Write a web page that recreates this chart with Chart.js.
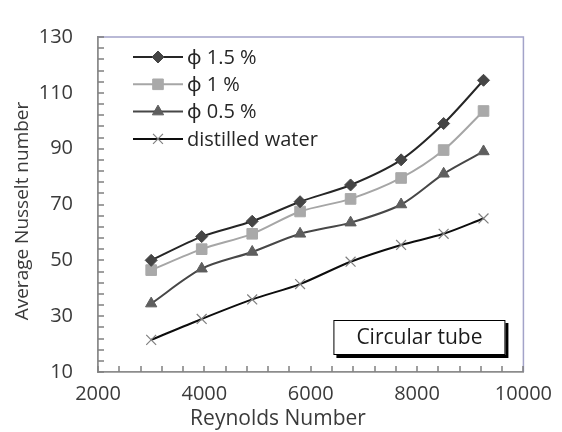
<!DOCTYPE html>
<html>
<head>
<meta charset="utf-8">
<script src="https://cdn.jsdelivr.net/npm/chart.js@4.4.0/dist/chart.umd.min.js"></script>
<style>
  html, body { margin: 0; padding: 0; background: #ffffff; }
  #wrap { width: 562px; height: 432px; }
</style>
</head>
<body>
<div id="wrap"><canvas id="nusselt-chart" width="562" height="432"></canvas></div>
<script>
// Reynolds numbers of the test runs
const reynolds = [3000, 3950, 4900, 5800, 6750, 7700, 8500, 9250];

// Average Nusselt number for each fluid
const nuPhi15 = [50, 58.5, 64, 71, 77, 86, 99, 114.5];
const nuPhi10 = [46.5, 54, 59.5, 67.5, 72, 79.5, 89.5, 103.5];
const nuPhi05 = [34.5, 47, 53, 59.5, 63.5, 70, 81, 89];
const nuWater = [21.5, 29, 36, 41.5, 49.5, 55.5, 59.5, 65];

const seriesLabels = ['ϕ 1.5 %', 'ϕ 1 %', 'ϕ 0.5 %', 'distilled water'];

// Axis ticks
const xTickValues = [2000, 4000, 6000, 8000, 10000];
const yTickValues = [10, 30, 50, 70, 90, 110, 130];
const xMinorStep = 400;
const yMinorStep = 4;

const FONT = "'Open Sans', 'Noto Sans', sans-serif";
const TEXT_COLOR = '#3a3a3a';

function toPoints(values) {
  return values.map((v, i) => ({ x: reynolds[i], y: v }));
}

// Frame, inner tick marks, legend, titles and the caption box
const decorPlugin = {
  id: 'decor',
  afterDatasetsDraw(chart) {
    const { ctx, chartArea: area, scales } = chart;
    const x = scales.x;
    const y = scales.y;
    ctx.save();

    // top and right edges of the plot box
    ctx.strokeStyle = '#a3a3c9';
    ctx.lineWidth = 1.5;
    ctx.beginPath();
    ctx.moveTo(area.left, area.top);
    ctx.lineTo(area.right, area.top);
    ctx.lineTo(area.right, area.bottom);
    ctx.stroke();

    // small tick marks pointing into the plot
    ctx.strokeStyle = '#808080';
    ctx.lineWidth = 1.5;
    ctx.beginPath();
    for (let v = y.min; v <= y.max; v += yMinorStep) {
      const py = Math.round(y.getPixelForValue(v));
      ctx.moveTo(area.left, py);
      ctx.lineTo(area.left + 6, py);
    }
    for (let v = x.min; v <= x.max; v += xMinorStep) {
      const px = Math.round(x.getPixelForValue(v));
      ctx.moveTo(px, area.bottom);
      ctx.lineTo(px, area.bottom - 6);
    }
    ctx.stroke();

    // legend: line sample with marker, then label
    const lx0 = area.left + 35;
    const lx1 = area.left + 85;
    chart.data.datasets.forEach((ds, i) => {
      const ly = area.top + 20 + i * 27.3;
      ctx.strokeStyle = ds.borderColor;
      ctx.lineWidth = ds.borderWidth;
      ctx.beginPath();
      ctx.moveTo(lx0, ly);
      ctx.lineTo(lx1, ly);
      ctx.stroke();
      ctx.fillStyle = ds.pointBackgroundColor;
      ctx.strokeStyle = ds.pointBorderColor;
      ctx.lineWidth = ds.pointBorderWidth;
      Chart.helpers.drawPoint(ctx, {
        pointStyle: ds.pointStyle,
        radius: ds.pointRadius,
        rotation: 0,
        borderWidth: ds.pointBorderWidth
      }, (lx0 + lx1) / 2, ly);
      ctx.fillStyle = '#262626';
      ctx.font = '20px ' + FONT;
      ctx.textAlign = 'left';
      ctx.textBaseline = 'middle';
      ctx.fillText(ds.label, lx1 + 4, ly + 1);
    });

    // caption box with a drop shadow
    const bx = area.right - 190;
    const by = area.bottom - 52;
    const bw = 172;
    const bh = 35;
    ctx.fillStyle = '#000000';
    ctx.fillRect(bx + 3, by + 3, bw, bh);
    ctx.fillStyle = '#ffffff';
    ctx.fillRect(bx, by, bw, bh);
    ctx.strokeStyle = '#000000';
    ctx.lineWidth = 1;
    ctx.strokeRect(bx + 0.5, by + 0.5, bw - 1, bh - 1);
    ctx.fillStyle = '#1a1a1a';
    ctx.font = '21px ' + FONT;
    ctx.textAlign = 'center';
    ctx.fillText('Circular tube', bx + bw / 2, by + bh / 2 + 1);

    // axis titles
    ctx.fillStyle = TEXT_COLOR;
    ctx.font = '21px ' + FONT;
    ctx.textAlign = 'center';
    ctx.textBaseline = 'middle';
    ctx.fillText('Reynolds Number', 278, 419);
    ctx.font = '19px ' + FONT;
    ctx.translate(23, 211);
    ctx.rotate(-Math.PI / 2);
    ctx.fillText('Average Nusselt number', 0, 0);

    ctx.restore();
  }
};

const ctx = document.getElementById('nusselt-chart').getContext('2d');
window.nusseltChart = new Chart(ctx, {
  type: 'line',
  data: {
    datasets: [
      {
        label: seriesLabels[0],
        data: toPoints(nuPhi15),
        borderColor: '#262626',
        borderWidth: 2,
        pointStyle: 'rectRot',
        pointRadius: 6,
        pointBackgroundColor: '#454545',
        pointBorderColor: '#454545',
        pointBorderWidth: 1
      },
      {
        label: seriesLabels[1],
        data: toPoints(nuPhi10),
        borderColor: '#a6a6a6',
        borderWidth: 2,
        pointStyle: 'rect',
        pointRadius: 7.5,
        pointBackgroundColor: '#a9a9a9',
        pointBorderColor: '#a9a9a9',
        pointBorderWidth: 1
      },
      {
        label: seriesLabels[2],
        data: toPoints(nuPhi05),
        borderColor: '#474747',
        borderWidth: 2,
        pointStyle: 'triangle',
        pointRadius: 6.5,
        pointBackgroundColor: '#5e5e5e',
        pointBorderColor: '#5e5e5e',
        pointBorderWidth: 1
      },
      {
        label: seriesLabels[3],
        data: toPoints(nuWater),
        borderColor: '#0d0d0d',
        borderWidth: 2,
        pointStyle: 'crossRot',
        pointRadius: 7,
        pointBackgroundColor: '#808080',
        pointBorderColor: '#808080',
        pointBorderWidth: 1.2
      }
    ]
  },
  options: {
    responsive: false,
    devicePixelRatio: 1,
    animation: false,
    layout: {
      padding: { top: 17, right: 34, bottom: 0, left: 0 }
    },
    elements: {
      line: { tension: 0.3, fill: false }
    },
    scales: {
      x: {
        type: 'linear',
        min: 2000,
        max: 10000,
        afterBuildTicks: (scale) => {
          scale.ticks = xTickValues.map((v) => ({ value: v }));
        },
        afterFit: (scale) => {
          scale.height = 60;
        },
        ticks: {
          padding: 10,
          color: TEXT_COLOR,
          font: { size: 20, family: FONT },
          maxRotation: 0,
          callback: (value) => String(value)
        },
        grid: { drawOnChartArea: false, drawTicks: false },
        border: { color: '#8c8c8c', width: 1.8 }
      },
      y: {
        type: 'linear',
        min: 10,
        max: 130,
        afterBuildTicks: (scale) => {
          scale.ticks = yTickValues.map((v) => ({ value: v }));
        },
        afterFit: (scale) => {
          scale.width = 98;
        },
        ticks: {
          padding: 25,
          color: TEXT_COLOR,
          font: { size: 20, family: FONT },
          callback: (value) => String(value)
        },
        grid: { drawOnChartArea: false, drawTicks: false },
        border: { color: '#8c8c8c', width: 1.8 }
      }
    },
    plugins: {
      legend: { display: false },
      tooltip: { enabled: false },
      title: { display: false }
    }
  },
  plugins: [decorPlugin]
});
</script>
</body>
</html>
